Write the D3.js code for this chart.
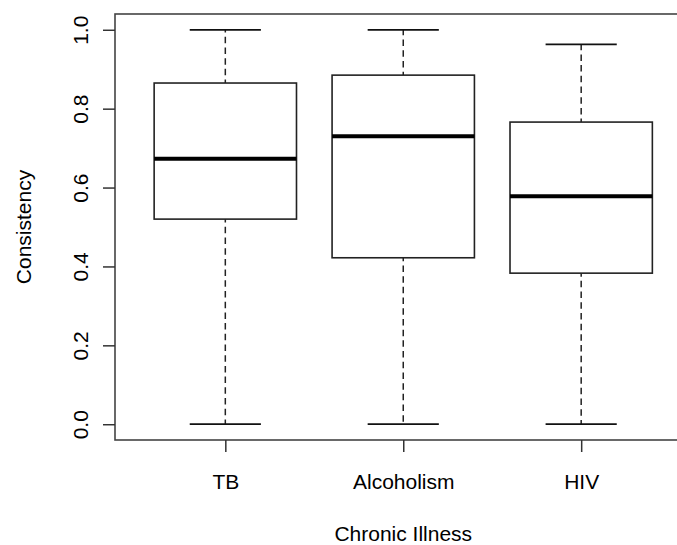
<!DOCTYPE html>
<html>
<head>
<meta charset="utf-8">
<script src="https://d3js.org/d3.v7.min.js"></script>
<style>
  html, body { margin: 0; padding: 0; background: #fff; }
  svg { display: block; }
  text { font-family: "Liberation Sans", Arial, sans-serif; fill: #000; }
</style>
</head>
<body>
<svg id="chart" width="677" height="545"></svg>
<script>
// ---- data ----
const categories = ["TB", "Alcoholism", "HIV"];
const lowerWhisker = [0.0, 0.0, 0.0];
const q1Values     = [0.520, 0.422, 0.383];
const medianValues = [0.673, 0.730, 0.578];
const q3Values     = [0.865, 0.885, 0.766];
const upperWhisker = [1.0, 1.0, 0.963];
const yTickValues  = [0.0, 0.2, 0.4, 0.6, 0.8, 1.0];
const xTitle = "Chronic Illness";
const yTitle = "Consistency";

const boxes = categories.map((c, i) => ({
  name: c, pos: i + 1,
  lo: lowerWhisker[i], q1: q1Values[i], med: medianValues[i],
  q3: q3Values[i], hi: upperWhisker[i]
}));

// ---- layout ----
const svg = d3.select("#chart");
const frame = { left: 115, right: 691.5, top: 14, bottom: 440 };
const fontSize = 21;

const x = d3.scaleLinear().domain([0.38, 3.62]).range([frame.left, frame.right]);
const y = d3.scaleLinear().domain([-0.04, 1.04]).range([frame.bottom, frame.top]);

const boxW = x(1.4) - x(1.0);   // half width of box (0.8 total)
const capW = x(1.2) - x(1.0);   // half width of whisker cap

svg.append("rect").attr("width", 677).attr("height", 545).attr("fill", "#fff");

const g = svg.append("g");

// whiskers (dashed)
g.selectAll("line.wup").data(boxes).join("line")
  .attr("x1", d => x(d.pos)).attr("x2", d => x(d.pos))
  .attr("y1", d => y(d.q3)).attr("y2", d => y(d.hi))
  .attr("stroke", "#222").attr("stroke-width", 1.5)
  .attr("stroke-dasharray", "6.5,4.2").attr("stroke-dashoffset", 3);
g.selectAll("line.wdn").data(boxes).join("line")
  .attr("x1", d => x(d.pos)).attr("x2", d => x(d.pos))
  .attr("y1", d => y(d.q1)).attr("y2", d => y(d.lo))
  .attr("stroke", "#222").attr("stroke-width", 1.5)
  .attr("stroke-dasharray", "6.5,4.2").attr("stroke-dashoffset", 3);

// caps
["hi", "lo"].forEach(k => {
  g.selectAll("line.cap-" + k).data(boxes).join("line")
    .attr("x1", d => x(d.pos) - capW).attr("x2", d => x(d.pos) + capW)
    .attr("y1", d => y(d[k])).attr("y2", d => y(d[k]))
    .attr("stroke", "#111").attr("stroke-width", 1.8);
});

// boxes
g.selectAll("rect.box").data(boxes).join("rect")
  .attr("x", d => x(d.pos) - boxW).attr("width", 2 * boxW)
  .attr("y", d => y(d.q3)).attr("height", d => y(d.q1) - y(d.q3))
  .attr("fill", "#fff").attr("stroke", "#222").attr("stroke-width", 1.6);

// medians
g.selectAll("line.med").data(boxes).join("line")
  .attr("x1", d => x(d.pos) - boxW).attr("x2", d => x(d.pos) + boxW)
  .attr("y1", d => y(d.med)).attr("y2", d => y(d.med))
  .attr("stroke", "#000").attr("stroke-width", 4);

// frame
svg.append("rect")
  .attr("x", frame.left).attr("y", frame.top)
  .attr("width", frame.right - frame.left).attr("height", frame.bottom - frame.top)
  .attr("fill", "none").attr("stroke", "#444").attr("stroke-width", 1.6);

// y axis
const yAxis = svg.append("g")
  .attr("transform", `translate(${frame.left},0)`)
  .call(d3.axisLeft(y).tickValues(yTickValues).tickSize(12).tickFormat(d3.format(".1f")));
yAxis.select(".domain").remove();
yAxis.selectAll(".tick line").attr("stroke", "#333").attr("stroke-width", 1.5);
yAxis.selectAll(".tick text")
  .attr("x", null).attr("dy", null)
  .attr("text-anchor", "middle")
  .attr("transform", "translate(-27,0) rotate(-90)")
  .style("font-size", fontSize + "px")
  .attr("fill", "#000");

// x axis
const xAxis = svg.append("g")
  .attr("transform", `translate(0,${frame.bottom})`)
  .call(d3.axisBottom(x).tickValues(boxes.map(d => d.pos)).tickSize(12)
        .tickFormat(v => categories[v - 1]));
xAxis.select(".domain").remove();
xAxis.selectAll(".tick line").attr("stroke", "#333").attr("stroke-width", 1.5);
xAxis.selectAll(".tick text")
  .attr("y", 49).attr("dy", null)
  .style("font-size", fontSize + "px")
  .attr("fill", "#000");

// titles
svg.append("text")
  .attr("x", (frame.left + 691.5) / 2).attr("y", 541)
  .attr("text-anchor", "middle").style("font-size", fontSize + "px")
  .text(xTitle);
svg.append("text")
  .attr("transform", `translate(31,${(frame.top + frame.bottom) / 2}) rotate(-90)`)
  .attr("text-anchor", "middle").style("font-size", fontSize + "px")
  .text(yTitle);
</script>
</body>
</html>
